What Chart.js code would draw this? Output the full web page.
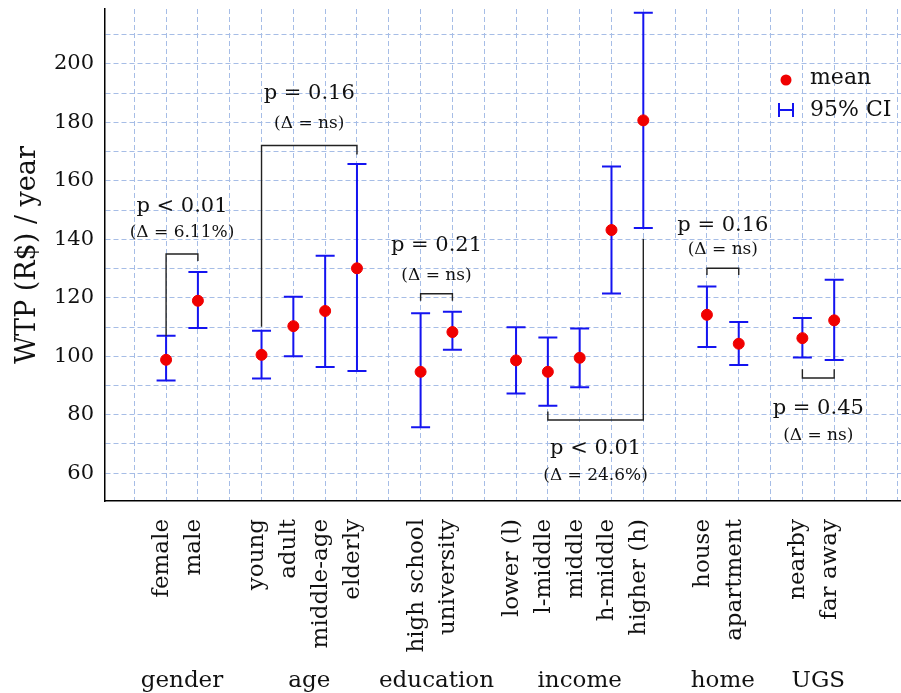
<!DOCTYPE html>
<html>
<head>
<meta charset="utf-8">
<script src="https://cdn.jsdelivr.net/npm/chart.js@4.4.1/dist/chart.umd.min.js"></script>
<style>
  html, body { margin: 0; padding: 0; background: #fff; }
  #wrap { width: 901px; height: 693px; }
</style>
</head>
<body>
<div id="wrap"><canvas id="wtpChart"></canvas></div>
<script>
// categories, in plotting order, and how many belong to each group
const categories = [
    "female", "male",
    "young", "adult", "middle-age", "elderly",
    "high school", "university",
    "lower (l)", "l-middle", "middle", "h-middle", "higher (h)",
    "house", "apartment",
    "nearby", "far away"
];
const groupNames = ["gender", "age", "education", "income", "home", "UGS"];
const groupSizes = [2, 4, 2, 5, 2, 2];

// WTP (R$/year): mean and 95% CI
const meanValues = [98.8, 119.0, 100.5, 110.3, 115.5, 130.1, 94.7, 108.3, 98.6, 94.7, 99.5, 143.2, 180.7, 114.2, 104.3, 106.2, 112.3];
const ciLower    = [91.7, 109.7, 92.4, 100.0, 96.3, 95.0, 75.7, 102.2, 87.3, 83.1, 89.4, 121.5, 143.9, 103.2, 97.0, 99.6, 98.7];
const ciUpper    = [107.0, 128.8, 108.7, 120.4, 134.4, 165.8, 114.7, 115.2, 109.9, 106.4, 109.5, 164.9, 217.5, 123.9, 111.7, 113.1, 126.2];

// significance brackets
const bracketFrom  = ["female", "young", "high school", "l-middle", "house", "nearby"];
const bracketTo    = ["male", "elderly", "university", "higher (h)", "apartment", "far away"];
const bracketLevel = [135.0, 172.1, 121.4, 78.2, 130.1, 92.6];
const bracketFromEnd = [106.9, 110.1, 119.0, 81.1, 127.8, 95.6];
const bracketToEnd   = [132.6, 169.0, 119.0, 140.2, 127.8, 95.6];
const pLabels     = ["p < 0.01", "p = 0.16", "p = 0.21", "p < 0.01", "p = 0.16", "p = 0.45"];
const deltaLabels = ["(Δ = 6.11%)", "(Δ = ns)", "(Δ = ns)", "(Δ = 24.6%)", "(Δ = ns)", "(Δ = ns)"];
const pLabelY     = [149.4, 188.0, 136.1, 66.5, 143.0, 80.4];
const deltaLabelY = [140.8, 178.1, 126.1, 57.6, 135.0, 71.2];

const yTickLabels = [60, 80, 100, 120, 140, 160, 180, 200];

// slot on the x axis: one empty slot between groups
let positions = [];
let groupSlots = [];
let slot = 1;
groupSizes.forEach((n, g) => {
    let first = slot;
    for (let k = 0; k < n; k++) positions.push(slot++);
    groupSlots.push((first + slot - 1) / 2);
    slot++;
});
const posOf = name => positions[categories.indexOf(name)];

const serif = "'DejaVu Serif', serif";
const gridColor = "#a6bde6";

const errorBars = {
    id: "errorBars",
    beforeDatasetsDraw(chart) {
        const { ctx, scales: { x, y } } = chart;
        ctx.save();
        ctx.strokeStyle = "#1414f0";
        ctx.lineWidth = 2;
        categories.forEach((c, i) => {
            const px = x.getPixelForValue(positions[i]);
            const lo = y.getPixelForValue(ciLower[i]);
            const hi = y.getPixelForValue(ciUpper[i]);
            ctx.beginPath();
            ctx.moveTo(px, lo); ctx.lineTo(px, hi);
            ctx.moveTo(px - 9.5, lo); ctx.lineTo(px + 9.5, lo);
            ctx.moveTo(px - 9.5, hi); ctx.lineTo(px + 9.5, hi);
            ctx.stroke();
        });
        ctx.restore();
    }
};

const annotations = {
    id: "annotations",
    afterDatasetsDraw(chart) {
        const { ctx, scales: { x, y } } = chart;
        ctx.save();
        // brackets
        ctx.strokeStyle = "#222";
        ctx.lineWidth = 1.4;
        bracketFrom.forEach((from, i) => {
            const x1 = x.getPixelForValue(posOf(from));
            const x2 = x.getPixelForValue(posOf(bracketTo[i]));
            const yl = y.getPixelForValue(bracketLevel[i]);
            ctx.beginPath();
            ctx.moveTo(x1, y.getPixelForValue(bracketFromEnd[i]));
            ctx.lineTo(x1, yl);
            ctx.lineTo(x2, yl);
            ctx.lineTo(x2, y.getPixelForValue(bracketToEnd[i]));
            ctx.stroke();

            const cx = (x1 + x2) / 2;
            ctx.fillStyle = "#111";
            ctx.textAlign = "center";
            ctx.textBaseline = "alphabetic";
            ctx.font = "21px " + serif;
            ctx.fillText(pLabels[i], cx, y.getPixelForValue(pLabelY[i]));
            ctx.font = "17px " + serif;
            ctx.fillText(deltaLabels[i], cx, y.getPixelForValue(deltaLabelY[i]));
        });

        // group names under the category labels
        ctx.font = "23px " + serif;
        ctx.fillStyle = "#111";
        ctx.textAlign = "center";
        groupNames.forEach((g, i) => {
            ctx.fillText(g, x.getPixelForValue(groupSlots[i]), 687);
        });

        // legend
        ctx.fillStyle = "#f00000";
        ctx.beginPath();
        ctx.arc(786, 80, 5.5, 0, Math.PI * 2);
        ctx.fill();
        ctx.strokeStyle = "#1414f0";
        ctx.lineWidth = 2;
        ctx.beginPath();
        ctx.moveTo(779, 103); ctx.lineTo(779, 117);
        ctx.moveTo(793, 103); ctx.lineTo(793, 117);
        ctx.moveTo(779, 110); ctx.lineTo(793, 110);
        ctx.stroke();
        ctx.fillStyle = "#111";
        ctx.textAlign = "left";
        ctx.font = "22px " + serif;
        ctx.fillText("mean", 810, 84);
        ctx.fillText("95% CI", 810, 116);
        ctx.restore();
    }
};

new Chart(document.getElementById("wtpChart"), {
    type: "scatter",
    data: {
        datasets: [{
            label: "mean",
            data: meanValues.map((v, i) => ({ x: positions[i], y: v })),
            backgroundColor: "#f00000",
            borderColor: "#f00000",
            pointRadius: 5.5,
            pointHoverRadius: 5.5
        }]
    },
    options: {
        responsive: true,
        maintainAspectRatio: false,
        animation: false,
        events: [],
        layout: { autoPadding: false, padding: { top: 9, left: 0, right: 0, bottom: 0 } },
        plugins: {
            legend: { display: false },
            tooltip: { enabled: false }
        },
        scales: {
            x: {
                type: "linear",
                min: -0.92,
                max: 24.1,
                afterFit(scale) {
                    scale.height = 192;
                    scale.paddingLeft = 0;
                    scale.paddingRight = 0;
                },
                grid: { color: gridColor, lineWidth: 1, drawTicks: false },
                border: { display: true, color: "#000", width: 1.5, dash: [5, 3] },
                ticks: {
                    stepSize: 1,
                    includeBounds: false,
                    autoSkip: false,
                    maxRotation: 90,
                    minRotation: 90,
                    padding: 18,
                    labelOffset: -4,
                    color: "#111",
                    font: { family: serif, size: 23 },
                    callback: value => {
                        const i = positions.indexOf(value);
                        return i >= 0 ? categories[i] : "";
                    }
                }
            },
            y: {
                min: 50.5,
                max: 218.8,
                afterFit(scale) {
                    scale.width = 105;
                    scale.paddingTop = 0;
                    scale.paddingBottom = 0;
                },
                grid: { color: gridColor, lineWidth: 1, drawTicks: false },
                border: { display: true, color: "#000", width: 1.5, dash: [5, 3] },
                ticks: {
                    stepSize: 10,
                    includeBounds: false,
                    padding: 11,
                    color: "#111",
                    font: { family: serif, size: 21 },
                    callback: value => yTickLabels.includes(value) ? String(value) : ""
                },
                title: {
                    display: true,
                    text: "WTP (R$) / year",
                    color: "#111",
                    font: { family: serif, size: 27 },
                    padding: { top: 12, bottom: 0 }
                }
            }
        }
    },
    plugins: [errorBars, annotations]
});
</script>
</body>
</html>
